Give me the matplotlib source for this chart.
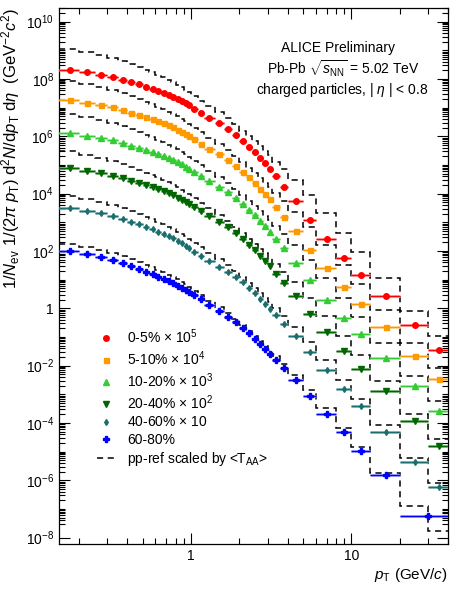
import numpy as np
import matplotlib
matplotlib.use('Agg')
import matplotlib.pyplot as plt
from matplotlib.lines import Line2D
from matplotlib.ticker import FixedLocator, FuncFormatter, NullFormatter

plt.rcParams['font.family'] = ['Liberation Sans', 'DejaVu Sans']
plt.rcParams['mathtext.fontset'] = 'custom'
plt.rcParams['mathtext.rm'] = 'Liberation Sans'
plt.rcParams['mathtext.it'] = 'Liberation Sans:italic'
plt.rcParams['mathtext.bf'] = 'Liberation Sans:bold'

## Data (log10 of the yield)
pt_edges = [0.15, 0.2, 0.25, 0.3, 0.35, 0.4, 0.45, 0.5, 0.55, 0.6, 0.65, 0.7, 0.75,
            0.8, 0.85, 0.9, 0.95, 1.0, 1.1, 1.2, 1.4, 1.6, 1.8, 2.0, 2.2, 2.4, 2.6,
            2.8, 3.0, 3.2, 3.6, 4.0, 5.0, 6.0, 8.0, 10.0, 13.0, 20.0, 30.0, 40.0]
pt_edges_60_80 = pt_edges[:-2] + [40.0]

labels = [r'0-5% $\times\ 10^{5}$', r'5-10% $\times\ 10^{4}$', r'10-20% $\times\ 10^{3}$',
          r'20-40% $\times\ 10^{2}$', r'40-60% $\times$ 10', '60-80%']
scales = [1e5, 1e4, 1e3, 1e2, 10, 1]
taa = [26.08, 20.44, 14.39, 6.93, 1.96, 0.42]   # <T_AA> per centrality (mb^-1)

log_0_5 = [8.33, 8.23, 8.15, 8.07, 7.98, 7.89, 7.81, 7.73, 7.66, 7.59, 7.52, 7.45, 7.38,
           7.30, 7.23, 7.15, 7.08, 6.96, 6.82, 6.65, 6.45, 6.26, 6.06, 5.85, 5.64, 5.45,
           5.25, 5.06, 4.87, 4.60, 4.25, 3.73, 3.07, 2.41, 1.77, 1.18, 0.42, -0.57, -1.44]
log_5_10 = [7.27, 7.17, 7.09, 7.01, 6.92, 6.83, 6.75, 6.67, 6.59, 6.52, 6.45, 6.38, 6.31,
            6.23, 6.16, 6.08, 6.01, 5.89, 5.75, 5.57, 5.37, 5.18, 4.97, 4.76, 4.58, 4.37,
            4.17, 4.00, 3.80, 3.53, 3.18, 2.69, 2.05, 1.40, 0.74, 0.15, -0.65, -1.66, -2.48]
log_10_20 = [6.12, 6.02, 5.94, 5.86, 5.77, 5.68, 5.60, 5.52, 5.45, 5.38, 5.31, 5.24, 5.17,
             5.09, 5.02, 4.94, 4.87, 4.75, 4.61, 4.44, 4.25, 4.06, 3.86, 3.65, 3.44, 3.24,
             3.04, 2.86, 2.68, 2.41, 2.09, 1.59, 0.98, 0.30, -0.34, -0.91, -1.72, -2.71, -3.58]
log_20_40 = [4.89, 4.79, 4.71, 4.63, 4.54, 4.45, 4.37, 4.29, 4.22, 4.15, 4.08, 4.01, 3.94,
             3.86, 3.79, 3.71, 3.64, 3.52, 3.38, 3.21, 3.01, 2.82, 2.62, 2.42, 2.21, 2.02,
             1.82, 1.64, 1.46, 1.21, 0.88, 0.42, -0.19, -0.82, -1.49, -2.10, -2.88, -3.93, -4.81]
log_40_60 = [3.51, 3.40, 3.31, 3.22, 3.12, 3.02, 2.93, 2.84, 2.76, 2.68, 2.60, 2.52, 2.44,
             2.35, 2.27, 2.18, 2.10, 1.97, 1.83, 1.64, 1.44, 1.25, 1.08, 0.92, 0.72, 0.53,
             0.34, 0.16, -0.01, -0.22, -0.53, -0.98, -1.54, -2.16, -2.82, -3.41, -4.30, -5.36, -6.25]
log_60_80 = [1.99, 1.88, 1.79, 1.68, 1.57, 1.47, 1.37, 1.28, 1.19, 1.10, 1.02, 0.94, 0.87,
             0.79, 0.72, 0.65, 0.58, 0.47, 0.32, 0.12, -0.08, -0.29, -0.49, -0.67, -0.86, -1.06,
             -1.25, -1.43, -1.60, -1.81, -2.08, -2.51, -3.06, -3.67, -4.33, -4.97, -5.83, -7.24]
# pp reference scaled by <T_AA> of 0-5% (x 10^5)
log_ppref_0_5 = [9.05, 8.93, 8.83, 8.73, 8.62, 8.51, 8.41, 8.31, 8.23, 8.14, 8.06, 7.97, 7.89,
                 7.80, 7.72, 7.63, 7.55, 7.41, 7.25, 7.06, 6.84, 6.63, 6.42, 6.20, 6.00, 5.83,
                 5.65, 5.49, 5.34, 5.12, 4.85, 4.48, 3.94, 3.32, 2.62, 1.95, 1.05, -0.10, -0.98]

series = [log_0_5, log_5_10, log_10_20, log_20_40, log_40_60, log_60_80]
colors = ['#ff0000', '#ff9900', '#33cc33', '#006600', '#1a6e6e', '#0000ff']
light = ['#ff9999', '#ffd699', '#adebad', '#80b380', '#8cb7b7', '#9999ff']
markers = ['o', 's', '^', 'v', 'd', 'P']
msizes = [4.0, 3.6, 4.0, 4.0, 3.0, 4.4]

## Plot
fig = plt.figure(figsize=(4.5, 5.89), dpi=100)
ax = fig.add_axes([0.131, 0.0764, 0.8645, 0.91])

pp_sigma = 10 ** np.array(log_ppref_0_5) / (taa[0] * scales[0])
for i in range(6):
    ax.stairs(pp_sigma * taa[i] * scales[i], pt_edges, baseline=None,
              color='black', ls=(0, (4, 3)), lw=1.1, zorder=2)

for i in range(6):
    edges = np.array(pt_edges_60_80 if i == 5 else pt_edges)
    lo, hi = edges[:-1], edges[1:]
    x = (lo + hi) / 2
    y = 10 ** np.array(series[i])
    ax.hlines(y, lo, hi, color=light[i], lw=2.0, zorder=3)
    ax.hlines(y, lo, hi, color=colors[i], lw=0.9, zorder=4)
    ax.plot(x, y, ls='none', marker=markers[i], ms=msizes[i], color=colors[i],
            mec=colors[i], zorder=5)

ax.set_xscale('log')
ax.set_yscale('log')
ax.set_xlim(0.15, 40)
ax.set_ylim(6e-9, 3e10)

ymaj = 10.0 ** np.arange(-8, 11, 2)
ymin = [k * 10.0 ** n for n in range(-9, 11) for k in range(1, 10)]
ymin = [v for v in ymin if not np.any(np.isclose(v, ymaj))]
ax.yaxis.set_major_locator(FixedLocator(ymaj))
ax.yaxis.set_minor_locator(FixedLocator(ymin))
ax.xaxis.set_major_locator(FixedLocator([1, 10]))
ax.xaxis.set_minor_locator(FixedLocator([k * 10.0 ** n for n in range(-1, 2) for k in range(2, 10)]))


def log_fmt(v, pos):
    e = int(round(np.log10(v)))
    if e == 0:
        return '1'
    if e == 1:
        return '10'
    return r'$10^{%d}$' % e


ax.yaxis.set_major_formatter(FuncFormatter(log_fmt))
ax.xaxis.set_major_formatter(FuncFormatter(log_fmt))
ax.yaxis.set_minor_formatter(NullFormatter())
ax.xaxis.set_minor_formatter(NullFormatter())
ax.tick_params(which='both', direction='in', top=True, right=True, labelsize=10, width=0.8)
ax.tick_params(which='major', length=8)
ax.tick_params(which='minor', length=4)
for s in ax.spines.values():
    s.set_linewidth(0.9)

ax.set_ylabel(r'$1/N_{\mathrm{ev}}\ 1/(2\pi\ p_{\mathrm{T}})\ \mathrm{d}^{2}N/\mathrm{d}p_{\mathrm{T}}\ \mathrm{d}\eta\ \ (\mathrm{GeV}^{-2}c^{2})$',
              fontsize=12, loc='top', labelpad=3)
ax.set_xlabel(r'$p_{\mathrm{T}}$ (GeV/$c$)', fontsize=11, loc='right', labelpad=2)

ax.text(0.717, 0.925, 'ALICE Preliminary', transform=ax.transAxes, ha='center', va='center', fontsize=10)
ax.text(0.73, 0.886, r'Pb-Pb $\sqrt{s_{\mathrm{NN}}}$ = 5.02 TeV', transform=ax.transAxes,
        ha='center', va='center', fontsize=10)
ax.text(0.727, 0.847, r'charged particles, | $\eta$ | < 0.8', transform=ax.transAxes,
        ha='center', va='center', fontsize=10)

handles = [Line2D([], [], ls='none', marker=markers[i], ms=msizes[i], color=colors[i])
           for i in range(6)]
handles.append(Line2D([], [], ls=(0, (4, 3)), color='black', lw=1.1))
ax.legend(handles, labels + [r'pp-ref scaled by <T$_{\mathrm{AA}}$>'], loc='upper left',
          bbox_to_anchor=(0.065, 0.428), frameon=False, fontsize=10, handlelength=1.4,
          handletextpad=0.8, labelspacing=0.25)

plt.savefig('out.png', dpi=100)
